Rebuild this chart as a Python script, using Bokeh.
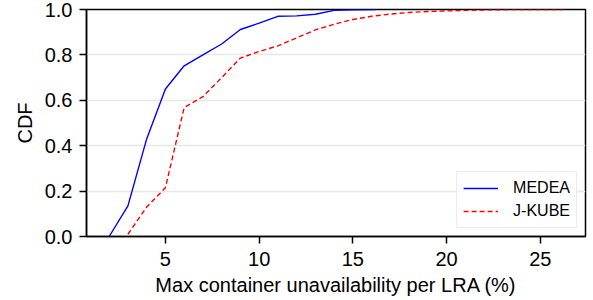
from bokeh.plotting import figure
from bokeh.models import Range1d, FixedTicker, Legend, LegendItem, CustomJSTickFormatter
from bokeh.embed import file_html
from bokeh.resources import INLINE

medea_x = [2, 3, 4, 5, 6, 7, 8, 9, 10, 11, 12, 13, 14, 15, 16.2]
medea_y = [0.0, 0.135, 0.43, 0.65, 0.752, 0.80, 0.848, 0.912, 0.94, 0.97, 0.972, 0.979, 0.996, 0.999, 1.0]

jkube_x = [3, 4, 5, 6, 7, 8, 9, 10, 11, 12, 13, 14, 15, 16, 17, 18, 19, 20, 21, 22, 23, 24, 25, 26.2]
jkube_y = [0.01, 0.13, 0.215, 0.568, 0.616, 0.70, 0.786, 0.815, 0.84, 0.875, 0.91, 0.935, 0.956, 0.97,
           0.98, 0.987, 0.991, 0.994, 0.996, 0.998, 0.999, 1.0, 1.0, 1.0]

x_ticks = [5, 10, 15, 20, 25]
y_ticks = [0.0, 0.2, 0.4, 0.6, 0.8, 1.0]

FONT = "Liberation Sans"

p = figure(width=590, height=298, output_backend="svg", toolbar_location=None,
           x_range=Range1d(0.79, 27.41), y_range=Range1d(0, 1),
           min_border_left=86, min_border_right=5, min_border_top=9, min_border_bottom=59)

p.background_fill_color = "white"
p.border_fill_color = "white"
p.outline_line_color = "black"
p.outline_line_width = 1.5
p.outline_line_alpha = 1

r1 = p.line(medea_x, medea_y, line_color="blue", line_width=1.4)
r2 = p.line(jkube_x, jkube_y, line_color="red", line_width=1.4, line_dash="5 3")

p.xgrid.visible = False
p.ygrid.grid_line_color = "#e8e8e8"
p.ygrid.grid_line_width = 1.5
p.ygrid.ticker = FixedTicker(ticks=y_ticks)

p.xaxis.ticker = FixedTicker(ticks=x_ticks)
p.yaxis.ticker = FixedTicker(ticks=y_ticks)
p.yaxis.formatter = CustomJSTickFormatter(code="return tick.toFixed(1);")

for ax in (p.xaxis[0], p.yaxis[0]):
    ax.axis_line_color = "black"
    ax.axis_line_width = 1.5
    ax.major_tick_line_color = "black"
    ax.major_tick_line_width = 1.5
    ax.major_tick_out = 7
    ax.major_tick_in = 0
    ax.minor_tick_line_color = None
    ax.major_label_text_font = FONT
    ax.major_label_text_font_size = "20px"
    ax.major_label_text_color = "black"
    ax.axis_label_text_font = FONT
    ax.axis_label_text_font_size = "20px"
    ax.axis_label_text_font_style = "normal"
    ax.axis_label_text_color = "black"

p.xaxis.axis_label = "Max container unavailability per LRA (%)"
p.yaxis.axis_label = "CDF"
p.xaxis.major_label_standoff = 8
p.yaxis.major_label_standoff = 7
p.xaxis.axis_label_standoff = 5
p.yaxis.axis_label_standoff = 6

legend = Legend(items=[LegendItem(label="MEDEA", renderers=[r1]),
                       LegendItem(label="J-KUBE", renderers=[r2])],
                location="bottom_right")
legend.label_text_font = FONT
legend.label_text_font_size = "16px"
legend.label_text_color = "black"
legend.border_line_color = "#d8d8d8"
legend.border_line_width = 1.5
legend.background_fill_alpha = 0.9
legend.glyph_width = 35
legend.glyph_height = 20
legend.label_height = 20
legend.spacing = 3
legend.padding = 6
legend.margin = 8
legend.label_standoff = 15
p.add_layout(legend)

open("out.html", "w").write(file_html(p, INLINE))
